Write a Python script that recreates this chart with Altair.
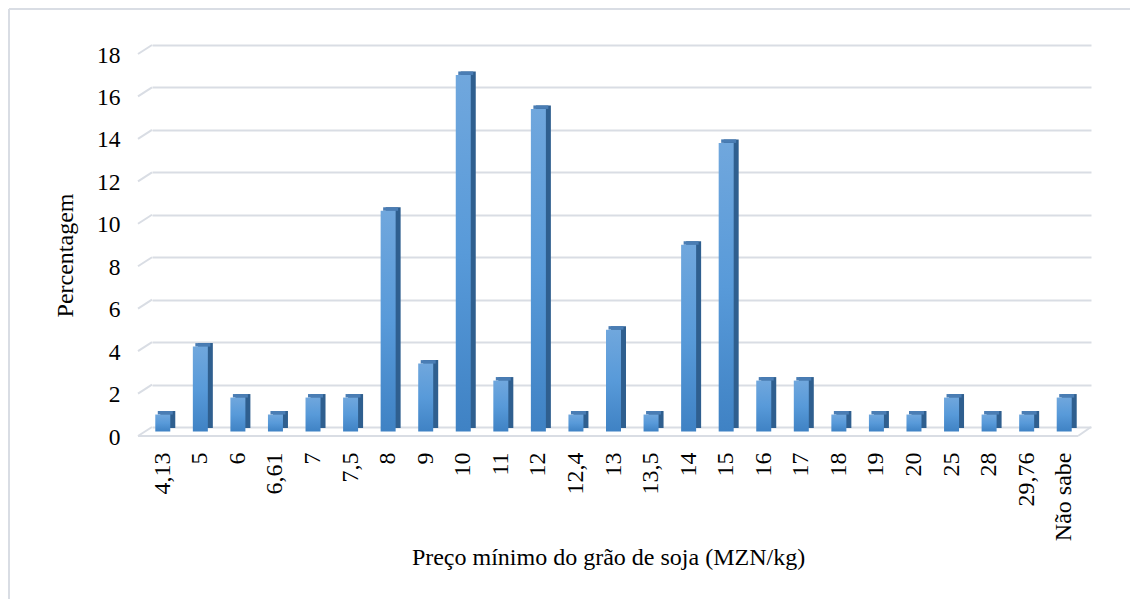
import altair as alt
import pandas as pd

categories = ["4,13", "5", "6", "6,61", "7", "7,5", "8", "9", "10", "11", "12", "12,4",
              "13", "13,5", "14", "15", "16", "17", "18", "19", "20", "25", "28", "29,76", "Não sabe"]
values = [0.8, 4.0, 1.6, 0.8, 1.6, 1.6, 10.4, 3.2, 16.8, 2.4, 15.2, 0.8,
          4.8, 0.8, 8.8, 13.6, 2.4, 2.4, 0.8, 0.8, 0.8, 1.6, 0.8, 0.8, 1.6]
y_ticks = [0, 2, 4, 6, 8, 10, 12, 14, 16, 18]

x_title = "Preço mínimo do grão de soja (MZN/kg)"
y_title = "Percentagem"

df = pd.DataFrame({"preco": categories, "pct": values})
ticks_df = pd.DataFrame({"pct": y_ticks})
floor_df = pd.DataFrame({"pct": [0]})

W, H = 939, 382
FONT = "'Liberation Serif', 'Times New Roman', serif"
GRID = "#d9dde4"
FS = 24

yscale = alt.Scale(domain=[0, 18], nice=False, zero=True)
xscale = alt.Scale(paddingInner=0, paddingOuter=0)

yaxis = alt.Axis(values=y_ticks, title=y_title, grid=True, gridColor=GRID, gridWidth=2,
                 domain=False, ticks=False, tickSize=0, labelPadding=32, labelOffset=10,
                 labelFontSize=23.5, titleFontSize=FS, labelFont=FONT, titleFont=FONT,
                 labelColor="#000000", titleColor="#000000", titleFontWeight="normal",
                 titleX=-87, titleY=210, titleAngle=270, titleAlign="center",
                 titleBaseline="middle")
xaxis = alt.Axis(title=x_title, labelAngle=-90, labelPadding=25, labelOffset=-8,
                 domain=False, ticks=False, tickSize=0, grid=False,
                 labelFontSize=FS, titleFontSize=FS, labelFont=FONT, titleFont=FONT,
                 labelColor="#000000", titleColor="#000000", titleFontWeight="normal",
                 titleX=456, titleY=137, titleAlign="center", titleBaseline="alphabetic")

X = alt.X("preco:N", sort=categories, scale=xscale, axis=xaxis)
Y = alt.Y("pct:Q", scale=yscale, axis=yaxis)

# chart frame (decorative)
frame_left = alt.Chart(floor_df).mark_rule(color=GRID, strokeWidth=2).encode(
    x=alt.value(-143), y=alt.value(-36), y2=alt.value(H + 172))
frame_top = alt.Chart(floor_df).mark_rule(color=GRID, strokeWidth=2).encode(
    x=alt.value(-143), x2=alt.value(W + 39), y=alt.value(-36))

# 3D wall diagonals and floor
diag = alt.Chart(ticks_df).mark_rule(color=GRID, strokeWidth=2, yOffset=9, y2Offset=0).encode(
    x=alt.value(-14), x2=alt.value(0), y=Y, y2="pct:Q")
floor_front = alt.Chart(floor_df).mark_rule(color=GRID, strokeWidth=2, yOffset=9, y2Offset=9).encode(
    x=alt.value(-14), x2=alt.value(W - 13), y=Y, y2="pct:Q")
floor_right = alt.Chart(floor_df).mark_rule(color=GRID, strokeWidth=2, yOffset=9, y2Offset=0).encode(
    x=alt.value(W - 13), x2=alt.value(W), y=Y, y2="pct:Q")

base = alt.Chart(df)

back = base.mark_bar(width=15, xOffset=-3, yOffset=1, y2Offset=1, color="#2f5f8f").encode(
    x=X, y=Y)
top = base.mark_bar(width=15, xOffset=-5.5, yOffset=1, y2Offset=4.5, color="#4a7db4").encode(
    x=X, y=Y, y2="pct:Q")
front = base.mark_bar(
    width=15, xOffset=-8, yOffset=4.5, y2Offset=4.5,
    color=alt.Gradient(gradient="linear", x1=0, x2=0, y1=0, y2=1,
                       stops=[alt.GradientStop(offset=0, color="#70a7dd"),
                              alt.GradientStop(offset=0.5, color="#589ad9"),
                              alt.GradientStop(offset=1, color="#3f82c4")])
).encode(x=X, y=Y)

chart = alt.layer(frame_left, frame_top, diag, floor_front, floor_right, back, top, front).properties(
    width=W, height=H,
    autosize=alt.AutoSizeParams(type="none"),
    padding={"left": 144, "top": 37, "right": 39, "bottom": 172},
    background="white",
).configure(font=FONT).configure_view(stroke=None)

chart.save("out.html", embed_options={"renderer": "svg", "actions": False})
